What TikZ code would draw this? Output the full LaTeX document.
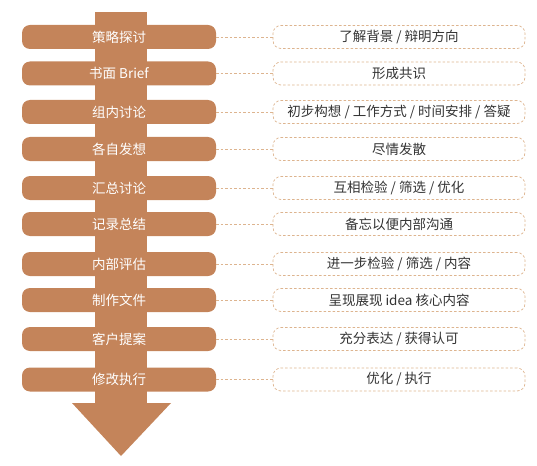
\documentclass[tikz,border=0pt]{standalone}
\usepackage{fontspec}
\setmainfont{Noto Sans CJK SC}
\usetikzlibrary{positioning}
\definecolor{brownfill}{HTML}{C4845A}
\definecolor{dashcol}{HTML}{DDB48F}
\definecolor{txtcol}{HTML}{333333}
\tikzset{
  stepbox/.style={fill=brownfill, rounded corners=8pt, minimum width=194pt, minimum height=24pt, inner sep=0pt, text=white, font=\fontsize{13.5pt}{15pt}\selectfont},
  notebox/.style={draw=dashcol, dashed, dash pattern=on 2.5pt off 2pt, rounded corners=8pt, minimum width=252pt, minimum height=23pt, inner sep=0pt, text=txtcol, font=\fontsize{13.5pt}{15pt}\selectfont, line width=0.7pt},
  link/.style={draw=dashcol, dash pattern=on 2.5pt off 2pt, line width=0.7pt}
}
\begin{document}
\begin{tikzpicture}[x=1pt,y=-1pt]
\useasboundingbox (0,0) rectangle (537,465);
\fill[brownfill] (95,12) rectangle (147,404);
\fill[brownfill] (72,403) -- (171,403) -- (121,456) -- cycle;
\foreach \i/\y/\a/\b in {
 1/37/{策略探讨}/{了解背景 / 辩明方向},
 2/73.5/{书面 Brief}/{形成共识},
 3/112/{组内讨论}/{初步构想 / 工作方式 / 时间安排 / 答疑},
 4/149/{各自发想}/{尽情发散},
 5/188/{汇总讨论}/{互相检验 / 筛选 / 优化},
 6/224/{记录总结}/{备忘以便内部沟通},
 7/264/{内部评估}/{进一步检验 / 筛选 / 内容},
 8/300/{制作文件}/{呈现展现 idea 核心内容},
 9/339/{客户提案}/{充分表达 / 获得认可},
 10/379.5/{修改执行}/{优化 / 执行}}{
  \node[stepbox] (s\i) at (119,\y) {\a};
  \node[notebox] (n\i) at (399,\y) {\b};
  \draw[link] (s\i.east) -- (n\i.west);
}
\end{tikzpicture}
\end{document}
